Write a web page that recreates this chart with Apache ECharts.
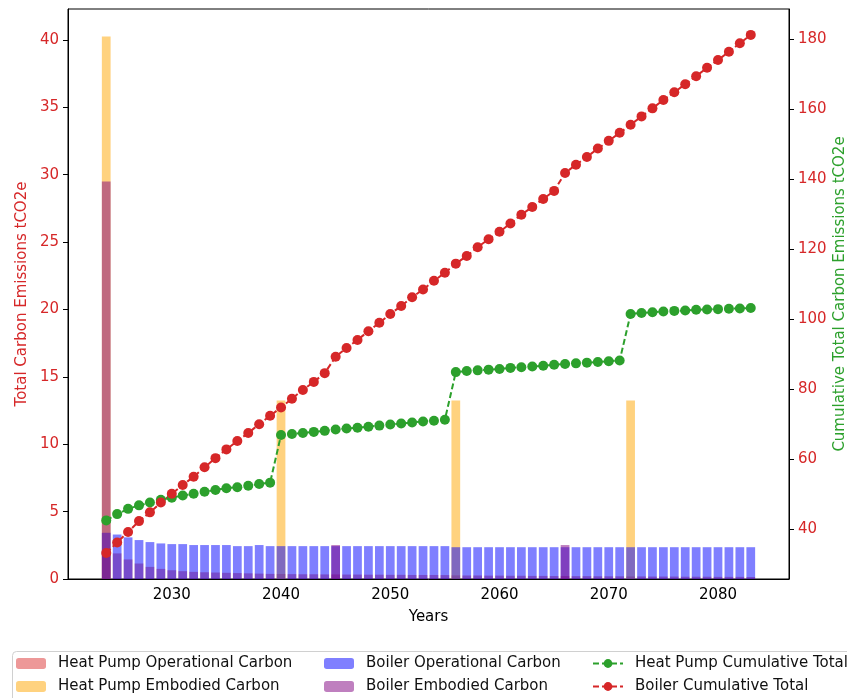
<!DOCTYPE html>
<html>
<head>
<meta charset="utf-8">
<script src="https://cdn.jsdelivr.net/npm/echarts@6/dist/echarts.min.js"></script>
<style>
  html, body { margin: 0; padding: 0; background: #fff; }
  #chart { width: 847px; height: 698px; }
</style>
</head>
<body>
<div id="chart"></div>
<script>
// years covered by the analysis
const years = [
  2024, 2025, 2026, 2027, 2028, 2029, 2030, 2031, 2032, 2033,
  2034, 2035, 2036, 2037, 2038, 2039, 2040, 2041, 2042, 2043,
  2044, 2045, 2046, 2047, 2048, 2049, 2050, 2051, 2052, 2053,
  2054, 2055, 2056, 2057, 2058, 2059, 2060, 2061, 2062, 2063,
  2064, 2065, 2066, 2067, 2068, 2069, 2070, 2071, 2072, 2073,
  2074, 2075, 2076, 2077, 2078, 2079, 2080, 2081, 2082, 2083
]

// yearly bars, tCO2e (left axis)
const hpOperational = [
  2.1, 1.9, 1.45, 1.15, 0.9, 0.75, 0.65, 0.58, 0.53, 0.5,
  0.48, 0.46, 0.44, 0.42, 0.4, 0.38, 0.37, 0.36, 0.35, 0.35,
  0.34, 0.34, 0.33, 0.33, 0.32, 0.32, 0.31, 0.31, 0.3, 0.3,
  0.3, 0.29, 0.27, 0.26, 0.26, 0.25, 0.25, 0.24, 0.24, 0.23,
  0.23, 0.22, 0.22, 0.21, 0.21, 0.2, 0.2, 0.2, 0.19, 0.19,
  0.18, 0.18, 0.18, 0.17, 0.17, 0.17, 0.16, 0.16, 0.16, 0.15
]
const hpEmbodied = [
  40.25, 0, 0, 0, 0, 0, 0, 0, 0, 0,
  0, 0, 0, 0, 0, 0, 13.25, 0, 0, 0,
  0, 0, 0, 0, 0, 0, 0, 0, 0, 0,
  0, 0, 13.25, 0, 0, 0, 0, 0, 0, 0,
  0, 0, 0, 0, 0, 0, 0, 0, 13.25, 0,
  0, 0, 0, 0, 0, 0, 0, 0, 0, 0
]
const boilerOperational = [
  3.43, 3.3, 3.09, 2.89, 2.74, 2.64, 2.59, 2.59, 2.52, 2.52,
  2.52, 2.52, 2.44, 2.44, 2.52, 2.44, 2.44, 2.44, 2.44, 2.44,
  2.44, 2.44, 2.44, 2.44, 2.44, 2.44, 2.44, 2.44, 2.44, 2.44,
  2.44, 2.44, 2.36, 2.36, 2.36, 2.36, 2.36, 2.36, 2.36, 2.36,
  2.36, 2.36, 2.36, 2.36, 2.36, 2.36, 2.36, 2.36, 2.36, 2.36,
  2.36, 2.36, 2.36, 2.36, 2.36, 2.36, 2.36, 2.36, 2.36, 2.36
]
const boilerEmbodied = [
  29.5, 0, 0, 0, 0, 0, 0, 0, 0, 0,
  0, 0, 0, 0, 0, 0, 0, 0, 0, 0,
  0, 2.52, 0, 0, 0, 0, 0, 0, 0, 0,
  0, 0, 0, 0, 0, 0, 0, 0, 0, 0,
  0, 0, 2.52, 0, 0, 0, 0, 0, 0, 0,
  0, 0, 0, 0, 0, 0, 0, 0, 0, 0
]

// cumulative totals, tCO2e (right axis)
const hpCumulative = [
  42.4, 44.2, 45.7, 46.7, 47.5, 48.3, 48.9, 49.5, 50.0, 50.6,
  51.1, 51.6, 51.9, 52.3, 52.8, 53.2, 66.8, 67.1, 67.4, 67.7,
  68.0, 68.4, 68.7, 68.9, 69.2, 69.5, 69.8, 70.1, 70.4, 70.7,
  70.9, 71.2, 84.8, 85.1, 85.3, 85.5, 85.7, 86.0, 86.2, 86.4,
  86.6, 86.9, 87.1, 87.3, 87.5, 87.7, 87.9, 88.1, 101.4, 101.7,
  101.9, 102.1, 102.3, 102.4, 102.6, 102.7, 102.8, 102.9, 103.0, 103.1
]
const boilerCumulative = [
  33.1, 36.1, 39.1, 42.2, 44.7, 47.5, 50.0, 52.5, 54.9, 57.6,
  60.2, 62.7, 65.1, 67.4, 69.9, 72.3, 74.7, 77.2, 79.7, 82.0,
  84.5, 89.2, 91.7, 94.0, 96.5, 98.9, 101.4, 103.7, 106.2, 108.4,
  110.9, 113.2, 115.8, 118.0, 120.5, 122.8, 124.9, 127.3, 129.8, 132.0,
  134.3, 136.6, 141.7, 144.1, 146.3, 148.7, 150.9, 153.2, 155.5, 157.9,
  160.2, 162.6, 164.8, 167.1, 169.4, 171.8, 174.0, 176.4, 178.8, 181.2
]

const xTickStep = 10
const leftTickStep = 5

// a few empty years either side, like the axis margins of the original
const PAD = 3
const categories = []
for (let y = years[0] - PAD; y <= years[years.length - 1] + PAD; y++) categories.push(String(y))
const pad = arr => [...Array(PAD).fill(null), ...arr, ...Array(PAD).fill(null)]

const FONT = 'DejaVu Sans'
const RED = '#d62728'
const GREEN = '#2ca02c'

const chart = echarts.init(document.getElementById('chart'), null, { renderer: 'canvas' })

const barBase = {
  type: 'bar',
  yAxisIndex: 0,
  barGap: '-100%',
  barCategoryGap: '20%',
  animation: false
}
const lineBase = {
  type: 'line',
  yAxisIndex: 1,
  symbol: 'circle',
  symbolSize: 10,
  showAllSymbol: true,
  animation: false
}

const legendBase = {
  orient: 'vertical',
  top: 656,
  padding: 0,
  itemWidth: 30,
  itemHeight: 11,
  itemGap: 8,
  textStyle: { fontFamily: FONT, fontSize: 15, color: '#111', lineHeight: 15, padding: [0, 0, 0, 7] }
}

chart.setOption({
  backgroundColor: '#fff',
  textStyle: { fontFamily: FONT },
  grid: {
    left: 68, right: 58, top: 9, bottom: 119,
    containLabel: false,
    outerBoundsMode: 'none',
    show: true, borderColor: '#000', borderWidth: 1, backgroundColor: 'transparent'
  },
  graphic: [{
    type: 'rect',
    left: 12, top: 651, z: 1,
    shape: { width: 845, height: 55, r: 4 },
    style: { fill: '#fff', stroke: '#d0d0d0', lineWidth: 1 }
  }],
  legend: [
    Object.assign({ left: 16, data: ['Heat Pump Operational Carbon', 'Heat Pump Embodied Carbon'] }, legendBase),
    Object.assign({ left: 324, data: ['Boiler Operational Carbon', 'Boiler Embodied Carbon'] }, legendBase),
    Object.assign({ left: 592, data: ['Heat Pump Cumulative Total', 'Boiler Cumulative Total'] }, legendBase)
  ],
  xAxis: {
    type: 'category',
    data: categories,
    name: 'Years',
    nameLocation: 'middle',
    nameGap: 31,
    nameTextStyle: { fontFamily: FONT, fontSize: 15, color: '#000' },
    axisLine: { lineStyle: { color: '#000', width: 1 } },
    axisTick: {
      alignWithLabel: true, length: 5, lineStyle: { color: '#000' },
      interval: (i, v) => Number(v) % xTickStep === 0
    },
    axisLabel: {
      fontFamily: FONT, fontSize: 15, color: '#000', margin: 9,
      interval: (i, v) => Number(v) % xTickStep === 0
    },
    splitLine: { show: false }
  },
  yAxis: [
    {
      type: 'value',
      min: 0, max: 42.3, interval: leftTickStep,
      name: 'Total Carbon Emissions tCO2e',
      nameLocation: 'middle',
      nameRotate: 90,
      nameGap: 38,
      nameMoveOverlap: false,
      nameTextStyle: { fontFamily: FONT, fontSize: 15, color: RED },
      axisLine: { show: true, lineStyle: { color: '#000' } },
      axisTick: { show: true, length: 5, lineStyle: { color: '#000' } },
      axisLabel: { fontFamily: FONT, fontSize: 15, color: RED, margin: 9, showMaxLabel: false },
      splitLine: { show: false }
    },
    {
      type: 'value',
      min: 25.65, max: 188.6, splitNumber: 8,
      position: 'right',
      name: 'Cumulative Total Carbon Emissions tCO2e',
      nameLocation: 'middle',
      nameRotate: 90,
      nameGap: 44,
      nameMoveOverlap: false,
      nameTextStyle: { fontFamily: FONT, fontSize: 15, color: GREEN },
      axisLine: { show: true, lineStyle: { color: '#000' } },
      axisTick: { show: true, length: 5, lineStyle: { color: '#000' } },
      axisLabel: { fontFamily: FONT, fontSize: 15, color: RED, margin: 9, showMinLabel: false, showMaxLabel: false },
      splitLine: { show: false }
    }
  ],
  series: [
    Object.assign({}, barBase, {
      name: 'Heat Pump Operational Carbon',
      data: pad(hpOperational),
      itemStyle: { color: 'rgba(220,50,50,0.5)' }
    }),
    Object.assign({}, barBase, {
      name: 'Heat Pump Embodied Carbon',
      data: pad(hpEmbodied),
      itemStyle: { color: 'rgba(255,165,0,0.5)' }
    }),
    Object.assign({}, barBase, {
      name: 'Boiler Operational Carbon',
      data: pad(boilerOperational),
      itemStyle: { color: 'rgba(0,0,255,0.5)' }
    }),
    Object.assign({}, barBase, {
      name: 'Boiler Embodied Carbon',
      data: pad(boilerEmbodied),
      itemStyle: { color: 'rgba(128,0,128,0.5)' }
    }),
    Object.assign({}, lineBase, {
      name: 'Heat Pump Cumulative Total',
      data: pad(hpCumulative),
      itemStyle: { color: GREEN },
      lineStyle: { color: GREEN, width: 2, type: [6, 3] }
    }),
    Object.assign({}, lineBase, {
      name: 'Boiler Cumulative Total',
      data: pad(boilerCumulative),
      itemStyle: { color: RED },
      lineStyle: { color: RED, width: 2, type: [6, 3] }
    })
  ]
})
</script>
</body>
</html>
